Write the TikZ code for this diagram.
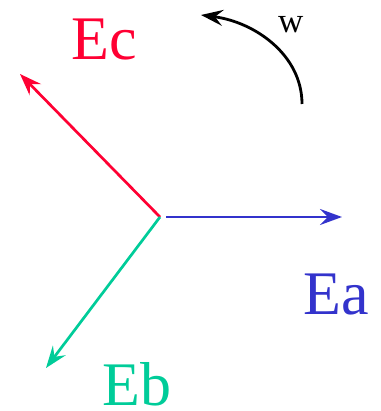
\documentclass[tikz,border=0pt]{standalone}
\usepackage{fontspec}
\setmainfont{Liberation Serif}
\usetikzlibrary{arrows.meta}
\definecolor{cred}{HTML}{FF0033}
\definecolor{cblue}{HTML}{3333CC}
\definecolor{cgreen}{HTML}{00CC99}
\begin{document}
\begin{tikzpicture}[x=1pt,y=-1pt,
  tip/.style={-{Stealth[length=22pt,width=16pt,inset=8pt]}},
  vec/.style={line width=2.7pt,tip},
  lbl/.style={inner sep=0pt,anchor=base west,text depth=0pt,font=\fontsize{62}{70}\selectfont}]
\useasboundingbox (0,0) rectangle (380,411);
\coordinate (o) at (160,217);
\coordinate (ob) at (166,217);
\coordinate (a) at (342,217);
\coordinate (c) at (20,74);
\coordinate (b) at (46,368);
\coordinate (w1) at (302,104);
\coordinate (w2) at (201,15);
\draw[vec,cred] (o) -- (c);
\draw[vec,cgreen] (o) -- (b);
\draw[vec,cblue] (ob) -- (a);
\draw[line width=2.8pt,tip] (w1) .. controls (302,55) and (255,22) .. (w2);
\node[lbl,text=cred] (tc) at (71,60) {Ec};
\node[lbl,text=cblue] (ta) at (303,314) {Ea};
\node[lbl,text=cgreen] (tb) at (102,405.5) {Eb};
\node[inner sep=0pt,anchor=base west,font=\fontsize{35}{40}\selectfont] (tw) at (278,33) {w};
\end{tikzpicture}
\end{document}
